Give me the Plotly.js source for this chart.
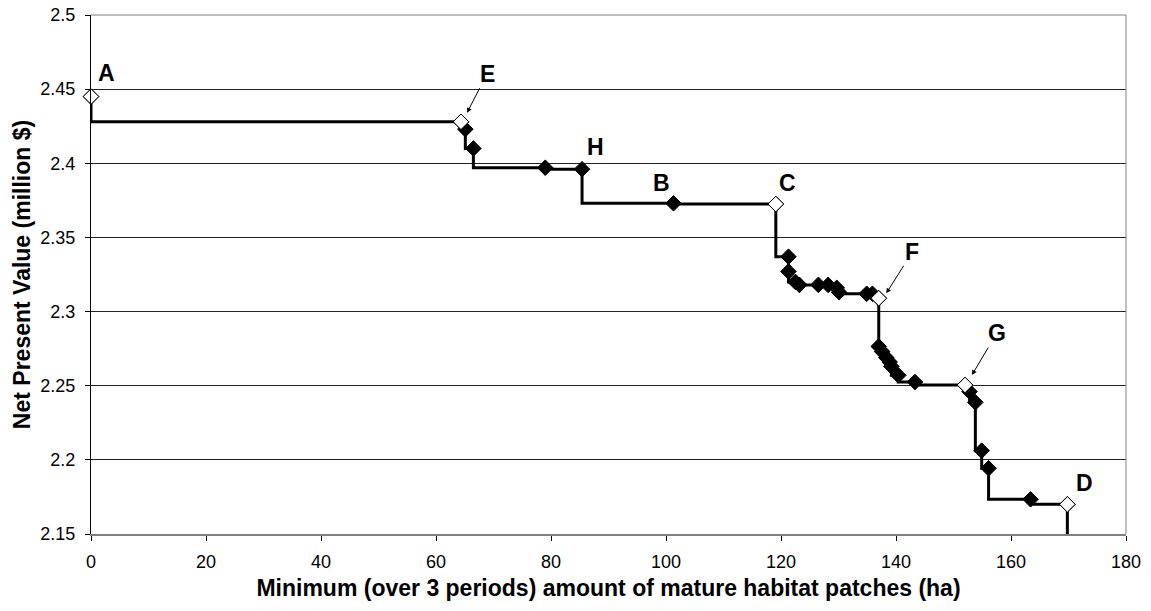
<!DOCTYPE html>
<html>
<head>
<meta charset="utf-8">
<script src="https://cdn.plot.ly/plotly-3.0.1.min.js"></script>
<style>
html,body{margin:0;padding:0;background:#fff;}
#chart{width:1151px;height:611px;}
</style>
</head>
<body>
<div id="chart"></div>
<script>
// Frontier points (minimum mature habitat, NPV)
const habitatX = [0, 64.35, 65.1, 66.5, 79.0, 85.4, 101.3, 119.1, 121.3, 121.3, 122.5, 123.2, 126.5, 128.2, 129.7, 130.1, 134.9, 135.9, 137.0, 137.0, 137.6, 138.3, 138.9, 139.2, 140.4, 143.3, 152.0, 152.8, 153.8, 154.9, 156.1, 163.4, 169.8];
const npvY     = [2.445, 2.428, 2.423, 2.410, 2.397, 2.396, 2.373, 2.3725, 2.337, 2.327, 2.320, 2.318, 2.318, 2.318, 2.316, 2.313, 2.312, 2.312, 2.309, 2.2765, 2.273, 2.269, 2.266, 2.263, 2.257, 2.2525, 2.2505, 2.246, 2.2388, 2.2062, 2.1943, 2.1734, 2.170];
// frontier continues below the visible range after D
const tailX = [169.8];
const tailY = [2.10];
// highlighted (open) solutions
const openNames = ['A', 'E', 'C', 'F', 'G', 'D'];
const openX = [0, 64.35, 119.1, 137.0, 152.0, 169.8];
const openY = [2.445, 2.428, 2.3725, 2.309, 2.2505, 2.170];
// axis ticks
const xTicks = [0, 20, 40, 60, 80, 100, 120, 140, 160, 180];
const yTicks = [2.15, 2.2, 2.25, 2.3, 2.35, 2.4, 2.45, 2.5];

const font = 'Liberation Sans, Arial, sans-serif';

const traces = [
  {
    x: habitatX.concat(tailX), y: npvY.concat(tailY),
    mode: 'lines', line: {shape: 'vh', color: '#000', width: 3},
    hoverinfo: 'skip', showlegend: false
  },
  {
    x: habitatX, y: npvY, mode: 'markers',
    marker: {symbol: 'diamond', size: 12, color: '#000', line: {color: '#000', width: 1}},
    showlegend: false, cliponaxis: false
  },
  {
    x: openX, y: openY, text: openNames, mode: 'markers',
    marker: {symbol: 'diamond', size: 12, color: '#fff', line: {color: '#000', width: 1}},
    showlegend: false, cliponaxis: false
  }
];

const labFont = {family: font, size: 23, color: '#000'};
function lab(t, x, y) { return {text: '<b>' + t + '</b>', x: x, y: y, xref: 'x', yref: 'y', showarrow: false, font: labFont}; }
function arr(t, x, y, ax, ay) {
  return {text: '<b>' + t + '</b>', x: x, y: y, xref: 'x', yref: 'y', showarrow: true,
    ax: ax, ay: ay, arrowhead: 2, arrowsize: 1, arrowwidth: 1, arrowcolor: '#000', standoff: 0, font: labFont};
}

const layout = {
  width: 1151, height: 611,
  margin: {l: 90.5, r: 25, t: 15, b: 77},
  paper_bgcolor: '#fff', plot_bgcolor: '#fff',
  font: {family: font, size: 18, color: '#000'},
  xaxis: {
    range: [0, 180], tickvals: xTicks, ticktext: xTicks.map(String),
    ticks: 'outside', ticklen: 5, tickcolor: '#000', showgrid: false, zeroline: false,
    showline: true, linecolor: '#808080', linewidth: 2,
    tickfont: {family: font, size: 18}, ticklabelstandoff: 5,
    title: {text: '<b>Minimum (over 3 periods) amount of mature habitat patches (ha)</b>', font: {family: font, size: 23}, standoff: 9}
  },
  yaxis: {
    range: [2.15, 2.5], tickvals: yTicks, ticktext: yTicks.map(v => String(v)),
    ticks: 'outside', ticklen: 5, tickcolor: '#000', showgrid: true, gridcolor: '#222', gridwidth: 1,
    zeroline: false, showline: true, linecolor: '#000', linewidth: 1,
    tickfont: {family: font, size: 18}, ticklabelstandoff: 6,
    title: {text: '<b>Net Present Value (million $)</b>', font: {family: font, size: 23}, standoff: 3}
  },
  shapes: [
    {type: 'line', xref: 'x domain', yref: 'y domain', x0: 0, x1: 1, y0: 1, y1: 1, line: {color: '#808080', width: 1}},
    {type: 'line', xref: 'x domain', yref: 'y domain', x0: 1, x1: 1, y0: 0, y1: 1, line: {color: '#808080', width: 1}}
  ],
  annotations: [
    lab('A', 2.7, 2.4607),
    arr('E', 65.4, 2.4341, 20, -39),
    lab('H', 87.7, 2.4108),
    lab('B', 99.3, 2.3869),
    lab('C', 121.2, 2.3869),
    arr('F', 138.3, 2.3123, 26, -41),
    arr('G', 153.2, 2.2572, 25, -42),
    lab('D', 172.7, 2.1846)
  ]
};

Plotly.newPlot('chart', traces, layout, {displayModeBar: false, staticPlot: true});
</script>
</body>
</html>
